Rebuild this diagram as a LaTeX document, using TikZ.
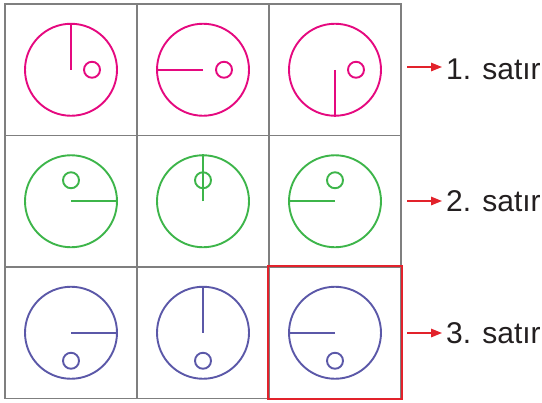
\documentclass[tikz,border=0pt]{standalone}
\usepackage{fontspec}
\setmainfont{Liberation Sans}
\usetikzlibrary{arrows.meta}
\definecolor{pinkc}{HTML}{E5097F}
\definecolor{greenc}{HTML}{3DB54A}
\definecolor{purplec}{HTML}{5B58A8}
\definecolor{gridc}{HTML}{7F7F7F}
\definecolor{redc}{HTML}{E2222B}
\definecolor{textc}{HTML}{231F20}
\begin{document}
\begin{tikzpicture}[x=1bp,y=-1bp,
  cell/.style={draw=gridc,line width=1.4bp,minimum width=132bp,minimum height=131.5bp,inner sep=0pt,shape=rectangle},
  big/.style={draw,circle,line width=1.9bp,minimum size=92bp,inner sep=0pt},
  small/.style={draw,circle,line width=1.9bp,minimum size=16bp,inner sep=0pt},
  hand/.style={line width=1.9bp},
  lbl/.style={anchor=base west,inner sep=0pt,font=\fontsize{30bp}{36bp}\selectfont,text=textc},
  arr/.style={draw=redc,line width=1.5bp,-{Triangle[length=11bp,width=8.5bp]},fill=redc,shorten >=4bp}]
\useasboundingbox (0,0) rectangle (542,402);
% grid cells
\foreach \r/\y in {1/69.75,2/201.25,3/332.75}{
  \foreach \c/\x in {1/71,2/203,3/335}{
    \node[cell] (k\r\c) at (\x,\y) {};
  }
}
% row 1 (pink)
\node[big,draw=pinkc] (c11) at (k11) {};
\node[small,draw=pinkc] (s11) at ([xshift=21bp]k11.center) {};
\draw[hand,pinkc] (c11.center) -- (c11.north);
\node[big,draw=pinkc] (c12) at (k12) {};
\node[small,draw=pinkc] (s12) at ([xshift=21bp]k12.center) {};
\draw[hand,pinkc] (c12.center) -- (c12.west);
\node[big,draw=pinkc] (c13) at (k13) {};
\node[small,draw=pinkc] (s13) at ([xshift=21bp]k13.center) {};
\draw[hand,pinkc] (c13.center) -- (c13.south);
% row 2 (green)
\node[big,draw=greenc] (c21) at (k21) {};
\node[small,draw=greenc] (s21) at ([yshift=21bp]k21.center) {};
\draw[hand,greenc] (c21.center) -- (c21.east);
\node[big,draw=greenc] (c22) at (k22) {};
\node[small,draw=greenc] (s22) at ([yshift=21bp]k22.center) {};
\draw[hand,greenc] (c22.center) -- (c22.north);
\node[big,draw=greenc] (c23) at (k23) {};
\node[small,draw=greenc] (s23) at ([yshift=21bp]k23.center) {};
\draw[hand,greenc] (c23.center) -- (c23.west);
% row 3 (purple)
\node[big,draw=purplec] (c31) at (k31) {};
\node[small,draw=purplec] (s31) at ([yshift=-28bp]k31.center) {};
\draw[hand,purplec] (c31.center) -- (c31.east);
\node[big,draw=purplec] (c32) at (k32) {};
\node[small,draw=purplec] (s32) at ([yshift=-28bp]k32.center) {};
\draw[hand,purplec] (c32.center) -- (c32.north);
\node[big,draw=purplec] (c33) at (k33) {};
\node[small,draw=purplec] (s33) at ([yshift=-28bp]k33.center) {};
\draw[hand,purplec] (c33.center) -- (c33.west);
% highlighted cell
\draw[draw=redc,line width=2bp] (k33.north west) rectangle (k33.south east);
% labels
\node[lbl] (l1) at (446,79) {1. satır};
\node[lbl] (l2) at (446,211) {2. satır};
\node[lbl] (l3) at (446,343) {3. satır};
\coordinate (a1) at (407,67);
\coordinate (a2) at (407,201);
\coordinate (a3) at (407,333);
\draw[arr] (a1) -- (a1 -| l1.west);
\draw[arr] (a2) -- (a2 -| l2.west);
\draw[arr] (a3) -- (a3 -| l3.west);
\end{tikzpicture}
\end{document}
